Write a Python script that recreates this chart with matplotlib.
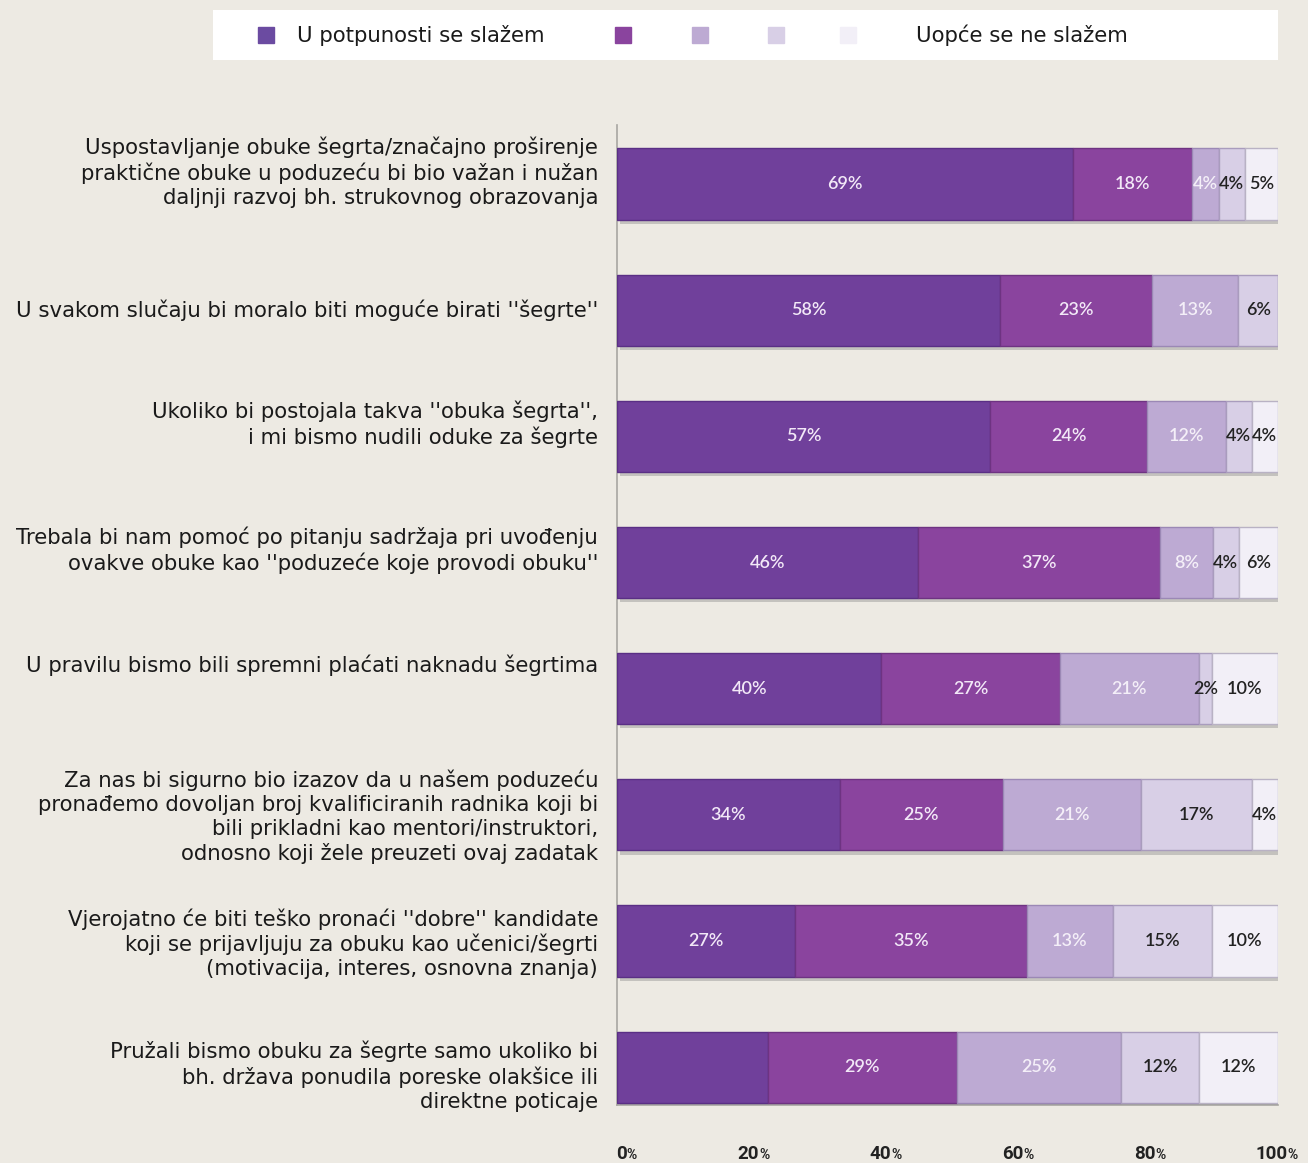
import matplotlib
matplotlib.use("Agg")
import matplotlib.pyplot as plt
import matplotlib.patheffects as pe
from matplotlib.transforms import offset_copy
import numpy as np

categories = [
    "Uspostavljanje obuke šegrta/značajno proširenje\npraktične obuke u poduzeću bi bio važan i nužan\ndaljnji razvoj bh. strukovnog obrazovanja",
    "U svakom slučaju bi moralo biti moguće birati ''šegrte''",
    "Ukoliko bi postojala takva ''obuka šegrta'',\ni mi bismo nudili oduke za šegrte",
    "Trebala bi nam pomoć po pitanju sadržaja pri uvođenju\novakve obuke kao ''poduzeće koje provodi obuku''",
    "U pravilu bismo bili spremni plaćati naknadu šegrtima",
    "Za nas bi sigurno bio izazov da u našem poduzeću\npronađemo dovoljan broj kvalificiranih radnika koji bi\nbili prikladni kao mentori/instruktori,\nodnosno koji žele preuzeti ovaj zadatak",
    "Vjerojatno će biti teško pronaći ''dobre'' kandidate\nkoji se prijavljuju za obuku kao učenici/šegrti\n(motivacija, interes, osnovna znanja)",
    "Pružali bismo obuku za šegrte samo ukoliko bi\nbh. država ponudila poreske olakšice ili\ndirektne poticaje",
]

series_names = ["U potpunosti se slažem", "", "", "", "Uopće se ne slažem"]
s1 = [69, 58, 57, 46, 40, 34, 27, 23]
s2 = [18, 23, 24, 37, 27, 25, 35, 29]
s3 = [4, 13, 12, 8, 21, 21, 13, 25]
s4 = [4, 6, 4, 4, 2, 17, 15, 12]
s5 = [5, 0, 4, 6, 10, 4, 10, 12]
hide_label_s1 = [False, False, False, False, False, False, False, True]

xticks = [0, 20, 40, 60, 80, 100]

# layout: vertical shift of each category label relative to its bar (points, + = up)
label_shift_pt = [8.5, 0, 8.5, 9, 17, -1.5, -2, -6.5]

colors = ["#70409b", "#8a449e", "#bdaad3", "#d8cfe6", "#f2eff7"]
edge_colors = ["#5a2f85", "#6e3382", "#9b88b5", "#a99cbd", "#b9b2c4"]
label_colors = ["#f2e8f7", "#f2e8f7", "#f4eff8", "#222222", "#222222"]

bg = "#edeae3"
fig = plt.figure(figsize=(13.08, 11.63), dpi=100, facecolor=bg)
ax = fig.add_axes([617/1308, 1-1105/1163, (1278-617)/1308, (1105-125)/1163])
ax.set_facecolor(bg)

data = np.array([s1, s2, s3, s4, s5], dtype=float)
totals = data.sum(axis=0)
norm = data / totals * 100
y = np.arange(len(categories))
left = np.zeros(len(categories))
bar_h = 0.565
for i in range(5):
    bars = ax.barh(y, norm[i], left=left, height=bar_h, color=colors[i],
                   edgecolor=edge_colors[i], linewidth=1.0, zorder=3)
    for b in bars:
        b.set_path_effects([pe.SimplePatchShadow(offset=(2, -3), shadow_rgbFace="#888888", alpha=0.4), pe.Normal()])
    for j in range(len(categories)):
        v = data[i, j]
        if v <= 0:
            continue
        if i == 0 and hide_label_s1[j]:
            continue
        ax.text(left[j] + norm[i, j] / 2, y[j], f"{int(v)}%", ha="center", va="center",
                fontsize=13, color=label_colors[i], family="Lato", fontweight="semibold", zorder=5)
    left += norm[i]

ax.set_xlim(0, 100)
ax.set_ylim(7.30, -0.468)
for s in ["top", "right"]:
    ax.spines[s].set_visible(False)
for s in ["left", "bottom"]:
    ax.spines[s].set_color("#a8a6a2")
    ax.spines[s].set_linewidth(1.2)
ax.set_yticks(y)
ax.set_yticklabels([])
ax.tick_params(axis="y", length=0)

ytrans = ax.get_yaxis_transform()
for j, cat in enumerate(categories):
    tr = offset_copy(ytrans, fig=fig, x=-13.5, y=label_shift_pt[j], units="points")
    ax.text(0, y[j], cat, transform=tr, ha="right", va="center", multialignment="right",
            fontsize=15.3, family="DejaVu Sans", color="#1a1a1a", linespacing=1.25)

ax.set_xticks(xticks)
ax.set_xticklabels([])
ax.tick_params(axis="x", length=0)

# x tick labels with smaller percent sign
xtrans = ax.get_xaxis_transform()
for xt in xticks:
    ax.annotate(str(xt), xy=(xt, 0), xycoords=xtrans, xytext=(7, -39), textcoords="offset points",
                ha="right", va="baseline", fontsize=13.5, fontweight="bold", family="Roboto", color="#222222",
                annotation_clip=False)
    ax.annotate("%", xy=(xt, 0), xycoords=xtrans, xytext=(7, -39), textcoords="offset points",
                ha="left", va="baseline", fontsize=10, fontweight="bold", family="Roboto", color="#222222",
                annotation_clip=False)

# legend box
lax = fig.add_axes([213/1308, 1-60/1163, (1278-213)/1308, 50/1163])
lax.set_xlim(213, 1278)
lax.set_ylim(60, 10)
lax.set_facecolor("white")
lax.set_xticks([]); lax.set_yticks([])
for s in lax.spines.values():
    s.set_visible(False)
sq_x = [266, 623, 700, 776, 848]
txt_x = [297, None, None, None, 916]
for i in range(5):
    lax.add_patch(plt.Rectangle((sq_x[i] - 8, 35 - 8), 16, 16, color=colors[i] if i != 0 else "#6b4ba1"))
    if series_names[i]:
        lax.text(txt_x[i], 35, series_names[i], ha="left", va="center", fontsize=15.3,
                 family="DejaVu Sans", color="#1a1a1a")

fig.savefig("out.png", dpi=100, facecolor=bg)
